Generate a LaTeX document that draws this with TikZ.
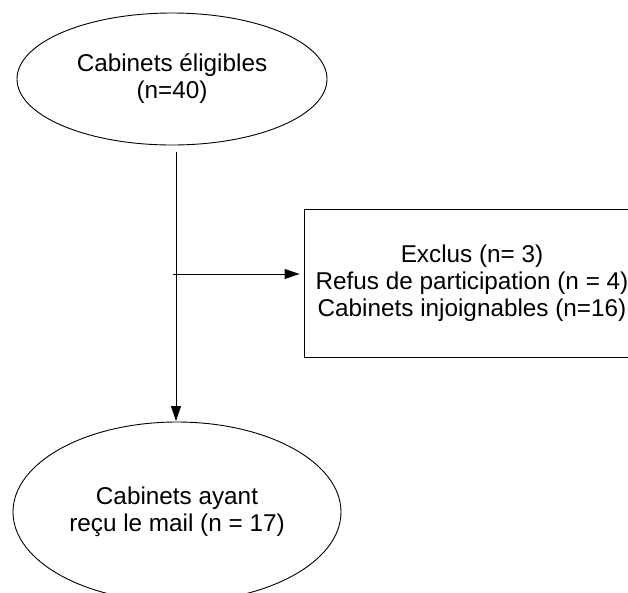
\documentclass[tikz,border=0pt]{standalone}
\usepackage{fontspec}
\setmainfont{Liberation Sans}
\usetikzlibrary{shapes.geometric,arrows.meta}
\begin{document}
\begin{tikzpicture}[x=1pt,y=-1pt,
  every node/.style={font=\fontsize{24.3}{27}\selectfont, align=center, inner sep=0pt},
  oval/.style={draw, ellipse, line width=0.9pt},
  box/.style={draw, rectangle, line width=0.9pt},
  conn/.style={line width=0.9pt, -{Triangle[length=15pt,width=10pt]}}]
\useasboundingbox (0,0) rectangle (628,592);
\clip (0,0) rectangle (628,592);
\node[oval, minimum width=310pt, minimum height=132pt] (top) at (172,79) {Cabinets éligibles\\(n=40)};
\node[box, minimum width=336pt, minimum height=148pt] (excl) at (472,283) {Exclus (n= 3)\\Refus de participation (n = 4)\\Cabinets injoignables (n=16)};
\node[oval, minimum width=328pt, minimum height=180pt] (bot) at (177,512) {Cabinets ayant\\reçu le mail (n = 17)};
\coordinate (vstart) at (176,152);
\coordinate (vend) at (176,421);
\coordinate (hstart) at (173,274);
\draw[conn] (vstart) -- (vend);
\draw[conn, shorten >=4pt] (hstart) -- (hstart -| excl.west);
\end{tikzpicture}
\end{document}
